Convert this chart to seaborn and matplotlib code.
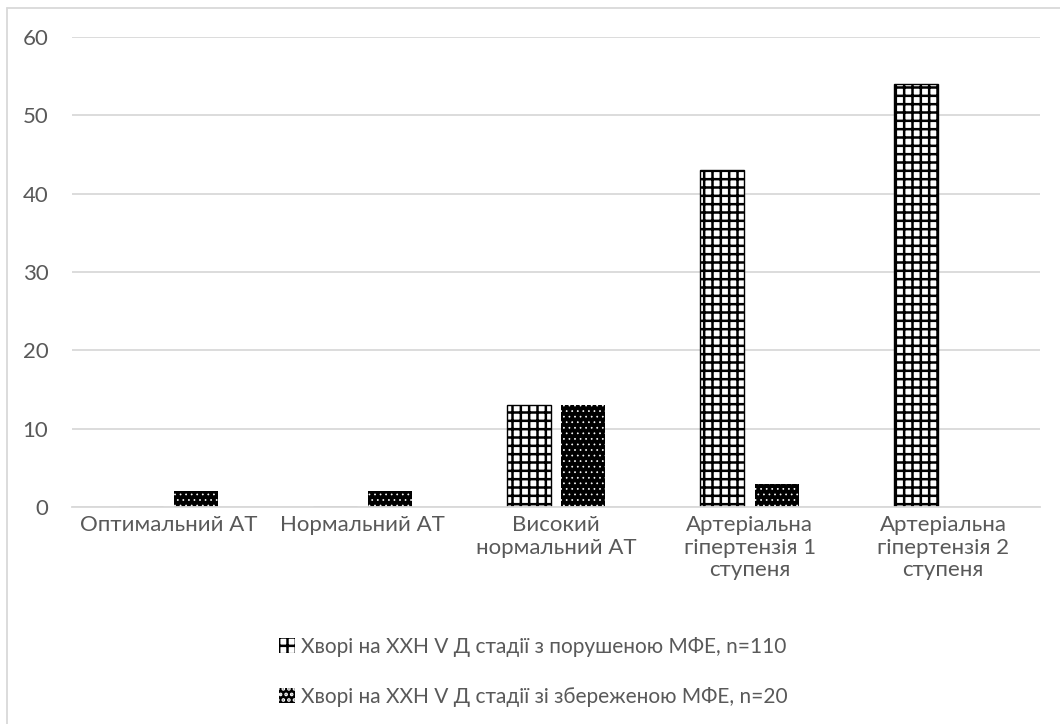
import matplotlib
matplotlib.use("Agg")
import matplotlib.pyplot as plt
import seaborn as sns
import pandas as pd
from matplotlib.patches import Patch
from matplotlib.lines import Line2D

categories = ["Оптимальний АТ", "Нормальний АТ", "Високий\nнормальний АТ",
              "Артеріальна\nгіпертензія 1\nступеня", "Артеріальна\nгіпертензія 2\nступеня"]
series_names = ["Хворі на ХХН V Д стадії з порушеною МФЕ, n=110",
                "Хворі на ХХН V Д стадії зі збереженою МФЕ, n=20"]
values_impaired = [0, 0, 13, 43, 54]
values_preserved = [2, 2, 13, 3, 0]
y_ticks = [0, 10, 20, 30, 40, 50, 60]

df = pd.DataFrame({
    "cat": categories * 2,
    "series": [series_names[0]] * 5 + [series_names[1]] * 5,
    "val": values_impaired + values_preserved,
})

sns.set_theme(style="white")
plt.rcParams["font.family"] = ["Lato", "DejaVu Sans"]
plt.rcParams["hatch.linewidth"] = 1.8

TXT = "#595959"
fig = plt.figure(figsize=(10.6, 7.24), dpi=100)
ax = fig.add_axes([72 / 1060, 1 - 507 / 724, 968 / 1060, 470 / 724])

sns.barplot(data=df, x="cat", y="val", hue="series", order=categories,
            hue_order=series_names, width=0.568, gap=0.2, ax=ax,
            legend=False, saturation=1)


def style_grid(p):
    p.set_facecolor("white")
    p.set_edgecolor("black")
    p.set_hatch("++")
    p.set_linewidth(1.0)


def style_dots(p):
    p.set_facecolor("black")
    p.set_edgecolor("white")
    p.set_hatch("...")
    p.set_linewidth(0)
    if hasattr(p, "set_hatch_linewidth"):
        p.set_hatch_linewidth(0.5)


n = len(categories)
for i, p in enumerate(ax.patches[:2 * n]):
    if i < n:
        style_grid(p)
    else:
        style_dots(p)

ax.set_ylim(0, 60)
ax.set_xlim(-0.5, n - 0.5)
ax.set_yticks(y_ticks)
ax.set_yticklabels([str(t) for t in y_ticks])
ax.yaxis.grid(True, color="#d9d9d9", linewidth=1.3)
ax.set_axisbelow(True)
for s in ["left", "right", "top"]:
    ax.spines[s].set_visible(False)
ax.spines["bottom"].set_color("#d9d9d9")
ax.spines["bottom"].set_linewidth(1.3)
ax.set_xlabel("")
ax.set_ylabel("")
ax.tick_params(axis="both", length=0, labelsize=16, labelcolor=TXT)
ax.tick_params(axis="y", pad=17)
ax.tick_params(axis="x", pad=6)
for lab in ax.get_xticklabels():
    lab.set_linespacing(1.15)

h1 = Patch(facecolor="white", edgecolor="black", hatch="++", linewidth=0)
h2 = Patch(facecolor="black", edgecolor="white", hatch="...", linewidth=0)
if hasattr(h2, "set_hatch_linewidth"):
    h2.set_hatch_linewidth(0.5)
fig.legend([h1, h2], series_names, loc="upper center", bbox_to_anchor=(0.503, 1 - 618 / 724),
           ncol=1, frameon=False, fontsize=15, labelcolor=TXT, handlelength=0.75,
           handleheight=0.75, handletextpad=0.3, labelspacing=1.45)

# chart-area border (top and left visible)
fig.add_artist(Line2D([7 / 1060, 7 / 1060], [0, 1 - 8 / 724], transform=fig.transFigure,
                      color="#d9d9d9", linewidth=1.3))
fig.add_artist(Line2D([7 / 1060, 1], [1 - 8 / 724, 1 - 8 / 724], transform=fig.transFigure,
                      color="#d9d9d9", linewidth=1.3))

fig.savefig("out.png", dpi=100)
